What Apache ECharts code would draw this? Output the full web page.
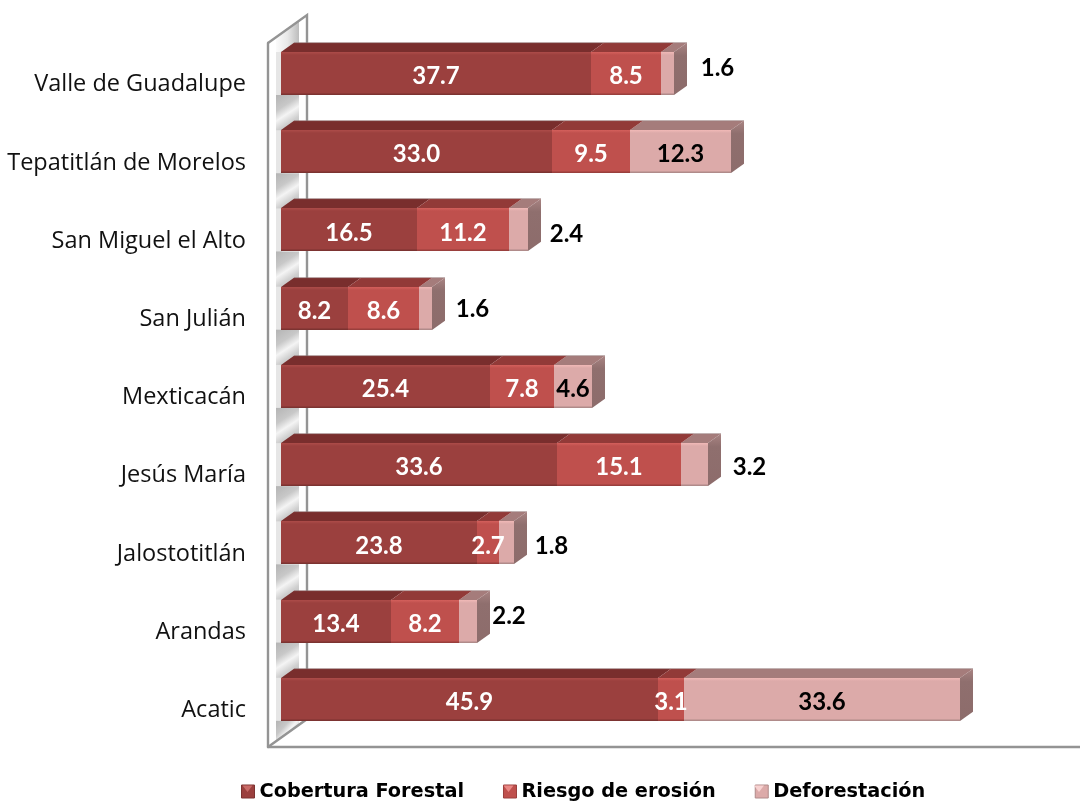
<!DOCTYPE html>
<html><head><meta charset="utf-8">
<style>html,body{margin:0;padding:0;background:#fff}#c{width:1080px;height:802px}</style>
<script src="https://cdn.jsdelivr.net/npm/echarts@6/dist/echarts.min.js"></script>
</head><body><div id="c"></div>
<script>
const categories = ['Valle de Guadalupe','Tepatitlán de Morelos','San Miguel el Alto','San Julián','Mexticacán','Jesús María','Jalostotitlán','Arandas','Acatic'];
const cobertura = [37.7,33.0,16.5,8.2,25.4,33.6,23.8,13.4,45.9];
const riesgo = [8.5,9.5,11.2,8.6,7.8,15.1,2.7,8.2,3.1];
const deforestacion = [1.6,12.3,2.4,1.6,4.6,3.2,1.8,2.2,33.6];
const seriesNames = ['Cobertura Forestal','Riesgo de erosión','Deforestación'];

// layout of the oblique projection
const G = {left:268, top:43, width:812, height:704};
const UNIT = 8.22, DX = 13, DY = 9.33, FRONT_LIFT = 8.6, BAR = 43;
const labelFont = 'Lato';
const axisFont = '"Open Sans"';
const legendFont = '"DejaVu Sans"';
// outside-bar label offsets for the narrow Deforestación segments [dx, dy]
const deforNudge = {0:[50,-5],2:[48,4],3:[47,1],5:[55,3],6:[45,3],7:[41,-5]};
// stacking of the three series: the middle one on top so its labels can overflow
const seriesZ = [6,7,5];

const palette = [
 {front:'#9b403e', top:'#792e2d', hi:'#ad4c49', lo:'#7c3331', text:'#fff'},
 {front:'#bf504d', top:'#923a38', hi:'#d4605c', lo:'#9a3f3d', text:'#fff'},
 {front:'#dcaaa9', top:'#a57c7b', hi:'#f1b9b7', lo:'#b08b8a', text:'#000'}
];

function rows(i){
  return categories.map((c,k)=>{
    const a = cobertura[k], b = riesgo[k], d = deforestacion[k];
    const starts=[0,a,a+b], vals=[a,b,d];
    return [k, starts[i], starts[i]+vals[i], vals[i]];
  });
}
function renderer(si){
  return function(params, api){
    const k = api.value(0), v0 = api.value(1), v1 = api.value(2), val = api.value(3);
    const p0 = api.coord([v0,k]), p1 = api.coord([v1,k]);
    const x0 = Math.round(p0[0]+DX), x1 = Math.round(p1[0]+DX), cy = p0[1]-FRONT_LIFT;
    const y0 = Math.round(cy-BAR/2), y1 = y0+BAR, w = x1-x0;
    const c = palette[si];
    const ch = [];
    ch.push({type:'polygon',shape:{points:[[x0,y0],[x0+DX,y0-DY],[x1+DX,y0-DY],[x1,y0]]},style:{fill:c.top}});
    ch.push({type:'line',shape:{x1:x0+DX,y1:y0-DY,x2:x1+DX,y2:y0-DY},style:{stroke:'rgba(150,130,130,.55)',lineWidth:1}});
    ch.push({type:'rect',shape:{x:x0,y:y0,width:w,height:BAR},style:{fill:c.front}});
    ch.push({type:'rect',shape:{x:x0,y:y0,width:w,height:3},style:{fill:{type:'linear',x:0,y:0,x2:0,y2:1,colorStops:[{offset:0,color:c.hi},{offset:1,color:c.front}]}}});
    ch.push({type:'rect',shape:{x:x0,y:y1-1.5,width:w,height:1.5},style:{fill:c.lo}});
    if(si===2){
      ch.push({type:'polygon',shape:{points:[[x1,y0],[x1+DX,y0-DY],[x1+DX,y1-DY],[x1,y1]]},
        style:{fill:{type:'linear',x:0,y:0,x2:0,y2:1,colorStops:[{offset:0,color:'#a98483'},{offset:.25,color:'#8f6f6e'},{offset:1,color:'#8d6c6b'}]}}});
    }
    const n = si===2 && deforNudge[k] ? deforNudge[k] : [0,3];
    ch.push({type:'text',z2:10,style:{x:(x0+x1)/2+n[0],y:cy+n[1],text:val.toFixed(1),
      align:'center',verticalAlign:'middle',fill:(si===2&&deforNudge[k])?'#000':c.text,
      font:'bold 24px '+labelFont}});
    return {type:'group',children:ch};
  };
}

// side wall with shaded panels between bars
const W = {x0:G.left, x3:G.left+3*DX, top0:G.top, top3:G.top-3*DY, bot0:G.top+G.height, bot3:G.top+G.height-3*DY};
const PX0 = W.x0+8, PX1 = W.x3-8;
const band = G.height/categories.length;
const frontTop = i => G.top+(i+.5)*band-FRONT_LIFT-BAR/2;
const gapFill = {type:'linear',x:0,y:0,x2:1,y2:1,colorStops:[
  {offset:0,color:'#b4b4b4'},{offset:.32,color:'#c8c8c8'},{offset:.52,color:'#f4f4f4'},{offset:.72,color:'#cfcfcf'},{offset:1,color:'#b8b8b8'}]};
const panels = categories.slice(0,-1).map((c,i)=>({type:'rect',z:0,silent:true,
  shape:{x:PX0,y:frontTop(i)+BAR,width:PX1-PX0,height:frontTop(i+1)-frontTop(i)-BAR},style:{fill:gapFill}}));
const wallGraphics = [
  {type:'polygon',z:0,silent:true,shape:{points:[[W.x0,W.top0],[W.x3,W.top3],[W.x3,W.bot3],[W.x0,W.bot0]]},style:{fill:'#fff'}},
  {type:'rect',z:0,silent:true,shape:{x:PX0,y:frontTop(0),width:6,height:frontTop(8)+BAR-frontTop(0)},style:{fill:'#e6e6e6'}},
  {type:'polygon',z:0,silent:true,shape:{points:[[PX0,W.top0-5.8],[PX1,W.top3+5.8],[PX1,frontTop(0)],[PX0,frontTop(0)]]},
    style:{fill:{type:'linear',x:0,y:0,x2:1,y2:0,colorStops:[{offset:0,color:'#fbfbfb'},{offset:.5,color:'#e8e8e8'},{offset:1,color:'#bcbcbc'}]}}},
  {type:'polygon',z:0,silent:true,shape:{points:[[PX0,frontTop(8)+BAR],[PX1,frontTop(8)+BAR],[PX1,W.bot3+5.8],[PX0,W.bot0-5.8]]},
    style:{fill:gapFill}},
  ...panels,
  {type:'polyline',z:1,silent:true,shape:{points:[[W.x0,W.top0],[W.x3,W.top3],[W.x3,W.bot3],[W.x0,W.bot0]]},
    style:{fill:'none',stroke:'#949494',lineWidth:2.4}}
];
const legendBevel = [[247.5,0],[508.5,1],[759,2]].map(([cx,i])=>({type:'polygon',z:50,silent:true,
  shape:{points:[[cx-5,785.5],[cx+5,785.5],[cx,792]]},style:{fill:['#c96b68','#ea8885','#f7d2d1'][i]}}));

const chart = echarts.init(document.getElementById('c'),null,{renderer:'canvas'});
chart.setOption({
  animation:false,
  backgroundColor:'#fff',
  grid:{left:G.left,top:G.top,width:G.width,height:G.height,containLabel:false},
  xAxis:{type:'value',min:0,max:G.width/UNIT,show:true,position:'bottom',
    axisLine:{show:true,onZero:false,lineStyle:{color:'#949494',width:2.4}},
    axisTick:{show:false},axisLabel:{show:false},splitLine:{show:false}},
  yAxis:{type:'category',inverse:true,data:categories,
    axisLine:{show:true,lineStyle:{color:'#949494',width:2.4}},axisTick:{show:false},
    axisLabel:{margin:22,color:'#111',fontFamily:axisFont,fontSize:23.5,align:'right',verticalAlign:'top',lineHeight:5}},
  legend:{left:241,top:782,padding:0,itemWidth:13,itemHeight:13,itemGap:39,icon:'rect',
    data:seriesNames.map((n,i)=>({name:n,itemStyle:{color:palette[i].front,borderColor:palette[i].lo,borderWidth:1}})),
    textStyle:{fontFamily:legendFont,fontWeight:'bold',fontSize:19.3,color:'#000'}},
  graphic:{elements:wallGraphics.concat(legendBevel)},
  series:[0,1,2].map(i=>({
    type:'custom',name:seriesNames[i],coordinateSystem:'cartesian2d',clip:false,z:seriesZ[i],
    encode:{x:[1,2],y:0},data:rows(i),renderItem:renderer(i),
    itemStyle:{color:palette[i].front}
  }))
});
</script></body></html>
